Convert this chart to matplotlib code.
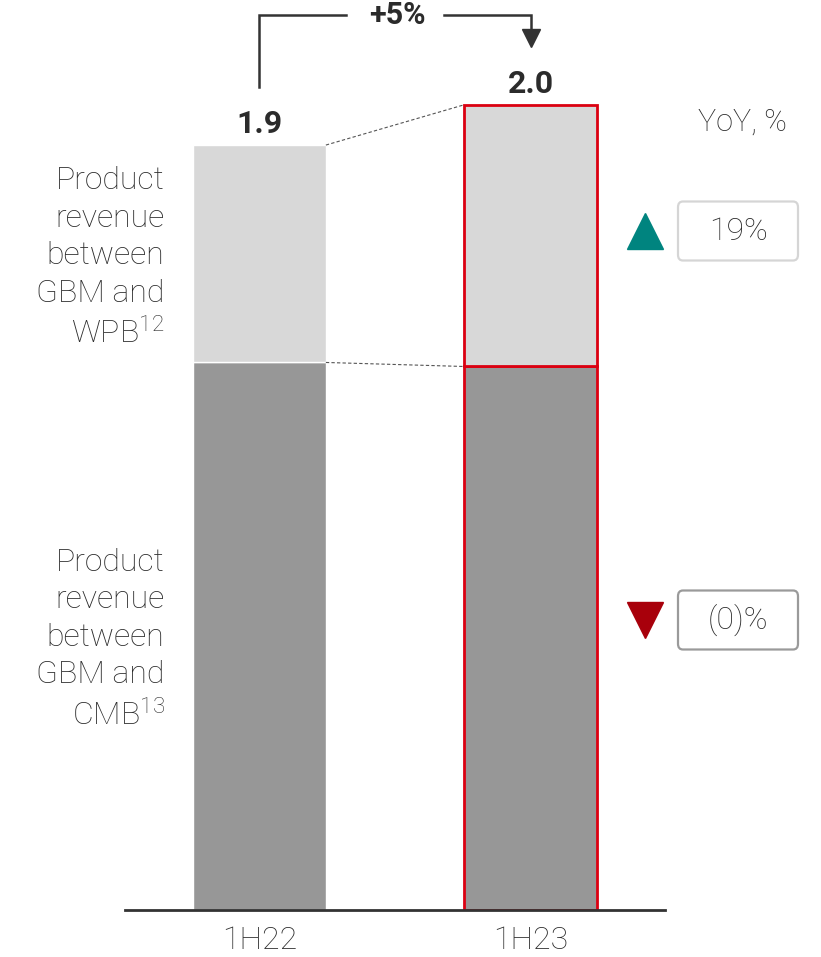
import numpy as np
import matplotlib
matplotlib.use("Agg")
import matplotlib.pyplot as plt
from matplotlib.patches import FancyBboxPatch

plt.rcParams['font.family'] = ['Roboto', 'DejaVu Sans']
plt.rcParams['mathtext.fontset'] = 'custom'
plt.rcParams['mathtext.rm'] = 'Roboto:light'
plt.rcParams['mathtext.default'] = 'regular'

# data
periods = ['1H22', '1H23']
cmb = [1.36, 1.35]          # product revenue between GBM and CMB
wpb = [0.54, 0.65]          # product revenue between GBM and WPB
totals = ['1.9', '2.0']
growth = '+5%'
yoy_wpb = '19%'
yoy_cmb = '(0)%'

LIGHT = '#d8d8d8'
DARK = '#979797'
RED = '#db0011'
TXT = '#2b2b2b'
FS = 23

W, H = 821, 957
fig = plt.figure(figsize=(W / 100, H / 100), dpi=100)
ax = fig.add_axes([125 / W, 47 / H, 540 / W, 910 / H])
ax.set_xlim(-0.496, 1.496)
ax.set_ylim(0, 910 / 402.6)
ax.axis('off')

x = np.arange(len(periods))
tops = np.array(cmb) + np.array(wpb)

# 1H22 bars
ax.bar(x[0], cmb[0], width=0.49, color=DARK, edgecolor='white', linewidth=1)
ax.bar(x[0], wpb[0], bottom=cmb[0], width=0.49, color=LIGHT, edgecolor='white', linewidth=1)
# 1H23 bars, highlighted
ax.bar(x[1], cmb[1], width=0.49, color=DARK, edgecolor=RED, linewidth=2)
ax.bar(x[1], wpb[1], bottom=cmb[1], width=0.49, color=LIGHT, edgecolor=RED, linewidth=2)

# baseline
ax.plot([-0.496, 1.496], [0, 0], color='#333333', lw=2, clip_on=False)

# dashed connectors
hw = 0.245
ax.plot([x[0] + hw, x[1] - hw], [tops[0], tops[1]], color='#555555', lw=0.8, ls=(0, (3, 2)))
ax.plot([x[0] + hw, x[1] - hw], [cmb[0], cmb[1]], color='#555555', lw=0.8, ls=(0, (3, 2)))

# total labels
for xi, t, lab in zip(x, tops, totals):
    ax.text(xi, t + 0.03, lab, ha='center', va='baseline', fontsize=FS,
            fontweight='bold', color=TXT)

# growth bracket
yb = 2.223
ax.plot([x[0], x[0], x[0] + 0.32], [tops[0] + 0.145, yb, yb], color='#333333', lw=1.8,
        clip_on=False, solid_joinstyle='miter')
ax.plot([x[1] - 0.32, x[1], x[1]], [yb, yb, 2.18], color='#333333', lw=1.8,
        clip_on=False, solid_joinstyle='miter')
ax.plot([x[1]], [2.165], marker='v', markersize=13, color='#333333', clip_on=False)
ax.text((x[0] + x[1]) / 2 + 0.01, yb, growth, ha='center', va='center', fontsize=22,
        fontweight='bold', color=TXT)

# category labels
for xi, p in zip(x, periods):
    ax.text(xi, -0.075, p, ha='center', va='center', fontsize=FS, color=TXT,
            fontweight='light')

# segment labels on the left
seg_wpb = 'Product\nrevenue\nbetween\nGBM and\nWPB$^{12}$'
seg_cmb = 'Product\nrevenue\nbetween\nGBM and\nCMB$^{13}$'
ax.text(-0.35, cmb[0] + wpb[0] / 2 - 0.01, seg_wpb, ha='right', va='center', fontsize=FS,
        color=TXT, linespacing=1.37, fontweight='light')
ax.text(-0.35, cmb[0] / 2 - 0.008, seg_cmb, ha='right', va='center', fontsize=FS,
        color=TXT, linespacing=1.37, fontweight='light')

# YoY column
fig.text(742 / W, 1 - 122 / H, 'YoY, %', ha='center', va='center', fontsize=FS - 1,
         color=TXT, fontweight='light')


def yoy_box(yc, label, edge, marker, mcolor):
    bw, bh = 120 / W, 59 / H
    box = FancyBboxPatch((678 / W, 1 - yc / H - bh / 2), bw, bh,
                         boxstyle='round,pad=0,rounding_size=0.006',
                         transform=fig.transFigure, facecolor='white',
                         edgecolor=edge, lw=1.6)
    fig.patches.append(box)
    fig.text(738 / W, 1 - yc / H, label, ha='center', va='center', fontsize=FS,
             color=TXT, fontweight='light')
    fig.lines.append(plt.Line2D([645 / W], [1 - yc / H], marker=marker, markersize=26,
                                color=mcolor, transform=fig.transFigure))


yoy_box(231, yoy_wpb, '#d5d5d5', '^', '#00847f')
yoy_box(620, yoy_cmb, '#9a9a9a', 'v', '#a8000b')

fig.savefig('out.png', dpi=100)
